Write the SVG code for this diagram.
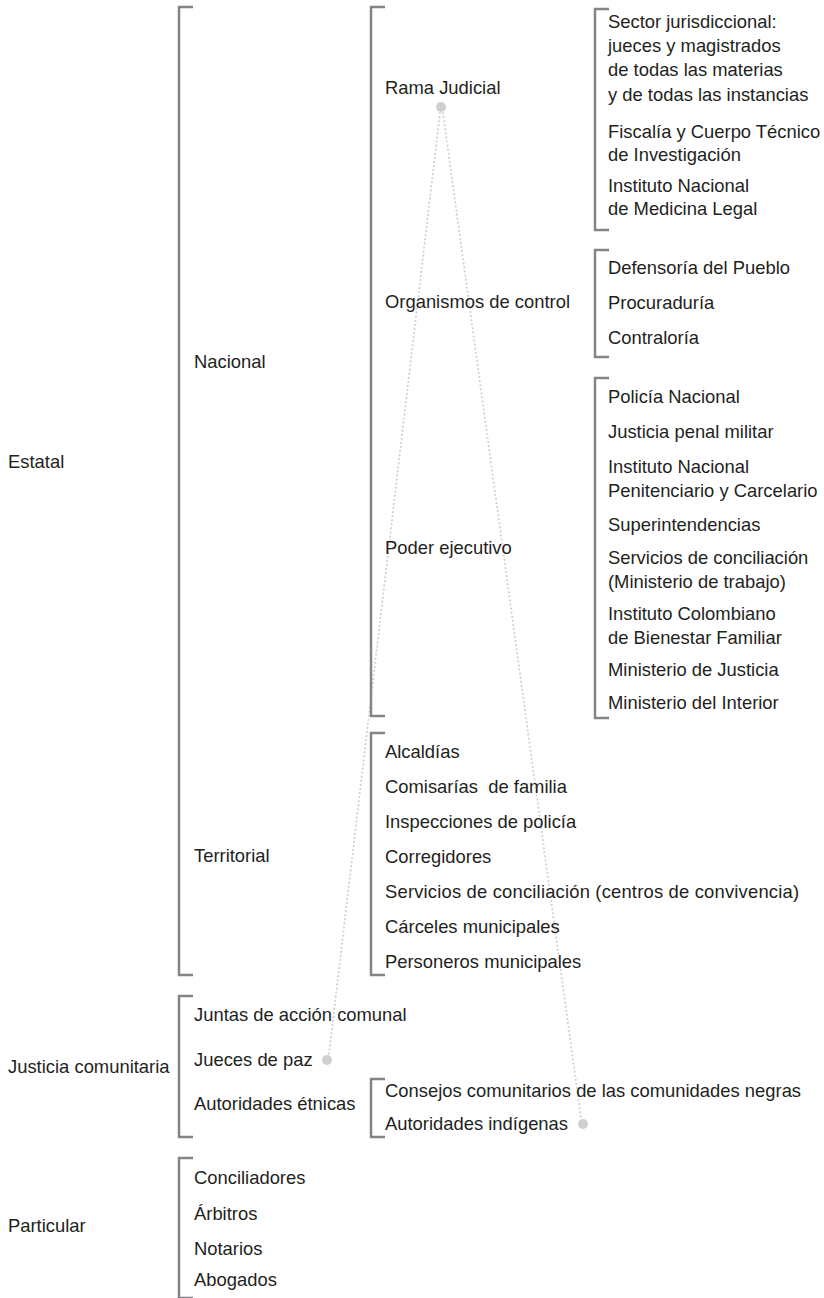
<svg xmlns="http://www.w3.org/2000/svg" width="824" height="1298" viewBox="0 0 824 1298">
<style>
text{font-family:"Liberation Sans",Arial,sans-serif;font-size:18.4px;fill:#231f20}
.br{fill:none;stroke:#858589;stroke-width:2.5}
.dl{fill:none;stroke:#cfcfd1;stroke-width:2;stroke-dasharray:0.1 4;stroke-linecap:round}
.dot{fill:#cfcfd1}
</style>
<rect width="824" height="1298" fill="#fff"/>
<g id="connectors">
<line class="dl" x1="440" y1="113" x2="329" y2="1054"/>
<line class="dl" x1="443" y1="113" x2="581" y2="1118"/>
</g>
<g id="estatal">
<text x="8" y="468">Estatal</text>
<path class="br" d="M193,7H179V975H193"/>
</g>
<g id="nacional">
<text x="194" y="368">Nacional</text>
<path class="br" d="M385,7H371V716H385"/>
</g>
<g id="rama-judicial">
<text x="385" y="94">Rama Judicial</text>
<circle class="dot" cx="441" cy="107" r="5"/>
<path class="br" d="M609,9H595V230H609"/>
<text x="608" y="28">Sector jurisdiccional:</text>
<text x="608" y="52">jueces y magistrados</text>
<text x="608" y="76">de todas las materias</text>
<text x="608" y="101">y de todas las instancias</text>
<text x="608" y="138">Fiscalía y Cuerpo Técnico</text>
<text x="608" y="161">de Investigación</text>
<text x="608" y="192">Instituto Nacional</text>
<text x="608" y="215">de Medicina Legal</text>
</g>
<g id="organismos">
<text x="385" y="308">Organismos de control</text>
<path class="br" d="M609,250H595V357H609"/>
<text x="608" y="274">Defensoría del Pueblo</text>
<text x="608" y="309">Procuraduría</text>
<text x="608" y="344">Contraloría</text>
</g>
<g id="poder-ejecutivo">
<text x="385" y="554">Poder ejecutivo</text>
<path class="br" d="M609,378H595V718H609"/>
<text x="608" y="403">Policía Nacional</text>
<text x="608" y="438">Justicia penal militar</text>
<text x="608" y="473">Instituto Nacional</text>
<text x="608" y="497">Penitenciario y Carcelario</text>
<text x="608" y="531">Superintendencias</text>
<text x="608" y="564">Servicios de conciliación</text>
<text x="608" y="588">(Ministerio de trabajo)</text>
<text x="608" y="620">Instituto Colombiano</text>
<text x="608" y="644">de Bienestar Familiar</text>
<text x="608" y="676">Ministerio de Justicia</text>
<text x="608" y="709">Ministerio del Interior</text>
</g>
<g id="territorial">
<text x="194" y="862">Territorial</text>
<path class="br" d="M385,733H371V975H385"/>
<text x="385" y="758">Alcaldías</text>
<text x="385" y="793" xml:space="preserve">Comisarías  de familia</text>
<text x="385" y="828">Inspecciones de policía</text>
<text x="385" y="863">Corregidores</text>
<text x="385" y="898" textLength="414">Servicios de conciliación (centros de convivencia)</text>
<text x="385" y="933">Cárceles municipales</text>
<text x="385" y="968">Personeros municipales</text>
</g>
<g id="justicia-comunitaria">
<text x="8" y="1073">Justicia comunitaria</text>
<path class="br" d="M193,996H179V1137H193"/>
<text x="194" y="1021">Juntas de acción comunal</text>
<text x="194" y="1066">Jueces de paz</text>
<circle class="dot" cx="327" cy="1060" r="5"/>
</g>
<g id="autoridades-etnicas">
<text x="194" y="1110">Autoridades étnicas</text>
<path class="br" d="M385,1079H371V1137H385"/>
<text x="385" y="1097">Consejos comunitarios de las comunidades negras</text>
<text x="385" y="1130">Autoridades indígenas</text>
<circle class="dot" cx="583" cy="1124" r="5"/>
</g>
<g id="particular">
<text x="8" y="1232">Particular</text>
<path class="br" d="M193,1158H179V1298H193"/>
<text x="194" y="1184">Conciliadores</text>
<text x="194" y="1220">Árbitros</text>
<text x="194" y="1255">Notarios</text>
<text x="194" y="1286">Abogados</text>
</g>
</svg>
